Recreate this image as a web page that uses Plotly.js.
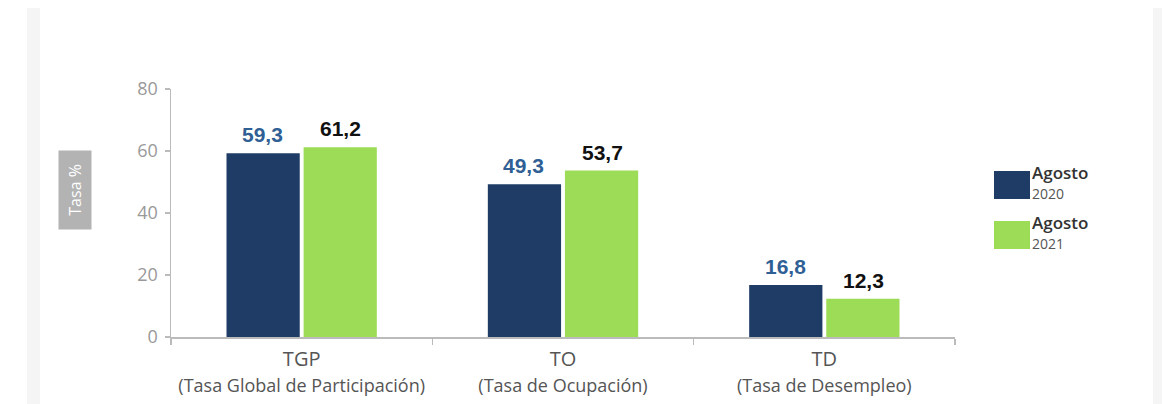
<!DOCTYPE html>
<html><head><meta charset="utf-8">
<script src="https://cdn.plot.ly/plotly-3.0.1.min.js"></script>
<style>html,body{margin:0;padding:0;background:#fff;}#chart{width:1162px;height:404px;}</style>
</head><body><div id="chart"></div>
<script>
const categories = ['TGP', 'TO', 'TD'];
const subtitles = ['(Tasa Global de Participación)', '(Tasa de Ocupación)', '(Tasa de Desempleo)'];
const seriesNames = ['Agosto 2020', 'Agosto 2021'];
const values2020 = [59.3, 49.3, 16.8];
const values2021 = [61.2, 53.7, 12.3];
const yTicks = [0, 20, 40, 60, 80];

const colDark = '#1f3c66';
const colGreen = '#9ddc57';
const labelBlue = '#2f5f94';

const tickText = categories.map((c, i) =>
  c + '<br><span style="font-size:18px">' + subtitles[i] + '</span>');

const traces = [
  {type: 'bar', name: seriesNames[0], x: categories, y: values2020,
   marker: {color: colDark}, hoverinfo: 'none', showlegend: false},
  {type: 'bar', name: seriesNames[1], x: categories, y: values2021,
   marker: {color: colGreen}, hoverinfo: 'none', showlegend: false}
];

const fmt = v => v.toFixed(1).replace('.', ',');
const annotations = [];
categories.forEach((c, i) => {
  annotations.push({x: i - 0.15, y: values2020[i], xref: 'x', yref: 'y', text: fmt(values2020[i]),
    showarrow: false, yanchor: 'bottom', yshift: 5,
    font: {family: 'Liberation Sans, Arial, sans-serif', size: 21, color: labelBlue, weight: 'bold'}});
  annotations.push({x: i + 0.15, y: values2021[i], xref: 'x', yref: 'y', text: fmt(values2021[i]),
    showarrow: false, yanchor: 'bottom', yshift: 5,
    font: {family: 'Liberation Sans, Arial, sans-serif', size: 21, color: '#111', weight: 'bold'}});
});

const px = x => (x - 171) / 784;
const py = y => (337 - y) / 248;

// y-axis title box
annotations.push({xref: 'paper', yref: 'paper', x: px(75), y: py(190),
  text: '\u00a0\u00a0Tasa %\u00a0\u00a0', textangle: -90, showarrow: false, bgcolor: '#b3b3b3',
  font: {family: 'Open Sans, sans-serif', size: 16, color: '#ffffff'},
  borderpad: 5, xanchor: 'center', yanchor: 'middle'});

// legend (manual)
const legColors = [colDark, colGreen];
const legTop = [171, 221];
const shapes = [];
shapes.push({type: 'rect', xref: 'paper', yref: 'paper', x0: px(27), x1: px(40), y0: py(404), y1: py(8),
  fillcolor: '#f5f5f5', line: {width: 0}, layer: 'below'});
shapes.push({type: 'rect', xref: 'paper', yref: 'paper', x0: px(1153), x1: px(1162), y0: py(404), y1: py(8),
  fillcolor: '#f5f5f5', line: {width: 0}, layer: 'below'});
seriesNames.forEach((n, k) => {
  shapes.push({type: 'rect', xref: 'paper', yref: 'paper', x0: px(994), x1: px(1030),
    y0: py(legTop[k] + 28), y1: py(legTop[k]), fillcolor: legColors[k], line: {width: 0}});
  const parts = n.split(' ');
  annotations.push({xref: 'paper', yref: 'paper', x: px(1030), y: py(legTop[k] + 1), text: parts[0],
    showarrow: false, xanchor: 'left', yanchor: 'middle',
    font: {family: 'Open Sans, sans-serif', size: 17, color: '#333', weight: 600}});
  annotations.push({xref: 'paper', yref: 'paper', x: px(1030), y: py(legTop[k] + 22), text: parts[1],
    showarrow: false, xanchor: 'left', yanchor: 'middle',
    font: {family: 'Open Sans, sans-serif', size: 14, color: '#555'}});
});

const layout = {
  width: 1162, height: 404,
  margin: {l: 171, r: 207, t: 89, b: 67, pad: 0},
  paper_bgcolor: '#ffffff', plot_bgcolor: '#ffffff',
  barmode: 'group', bargap: 0.41, bargroupgap: 0.05,
  separators: ',.',
  xaxis: {type: 'category', tickvals: categories, ticktext: tickText, tickson: 'boundaries',
    ticks: 'outside', ticklen: 6, tickcolor: '#bbbbbb', tickwidth: 1.5, ticklabelstandoff: 3,
    showline: true, linecolor: '#bbbbbb', linewidth: 1.5, showgrid: false, zeroline: false,
    tickfont: {family: 'Open Sans, sans-serif', size: 20, color: '#555'}, automargin: false},
  yaxis: {range: [0, 80], tickvals: yTicks, ticks: 'outside', ticklen: 5, tickcolor: '#bbbbbb',
    tickwidth: 1.5, showline: true, linecolor: '#bbbbbb', linewidth: 1.5, showgrid: false,
    zeroline: false, tickfont: {family: 'Open Sans, sans-serif', size: 18, color: '#999'},
    ticklabelstandoff: 3, automargin: false},
  annotations: annotations,
  shapes: shapes,
  font: {family: 'Open Sans, sans-serif'}
};

Plotly.newPlot('chart', traces, layout, {displayModeBar: false, staticPlot: true});
</script></body></html>
